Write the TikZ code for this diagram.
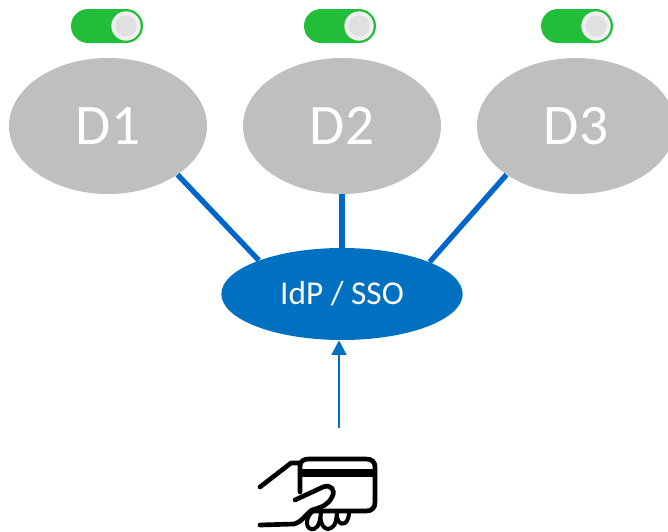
\documentclass[tikz,border=0pt]{standalone}
\usepackage{fontspec}
\setmainfont{Carlito}
\usetikzlibrary{arrows.meta,shapes.geometric}
\definecolor{greyfill}{RGB}{191,191,191}
\definecolor{idpblue}{RGB}{0,112,192}
\definecolor{linkblue}{RGB}{0,102,204}
\definecolor{togglegreen}{RGB}{34,190,58}
\definecolor{knobrim}{RGB}{240,240,240}
\definecolor{knobcore}{RGB}{224,224,224}
\tikzset{
  x=0.75pt,y=-0.75pt,
  domainnode/.style={ellipse,fill=greyfill,text=white,minimum width=148.5pt,minimum height=102pt,inner sep=0pt,font=\fontsize{43}{43}\selectfont},
  idpnode/.style={ellipse,fill=idpblue,text=white,minimum width=181pt,minimum height=69pt,inner sep=0pt,font=\fontsize{25}{25}\selectfont},
  link/.style={draw=linkblue,line width=4pt},
  feed/.style={draw=idpblue,line width=2pt,-{Triangle[length=11pt,width=11pt]}},
  icon/.style={draw=black,line width=3.5pt,line cap=round,line join=round},
}
\newcommand{\toggleswitch}[2]{%
  \fill[togglegreen] (#1-36,#2-17) ++(17,0) -- ++(38,0) arc[start angle=90,end angle=-90,radius=12.75pt] -- ++(-38,0) arc[start angle=270,end angle=90,radius=12.75pt] -- cycle;
  \fill[knobrim] (#1+19,#2) circle[radius=11pt];
  \fill[knobcore] (#1+19,#2) circle[radius=8pt];
}
\begin{document}
\begin{tikzpicture}
\useasboundingbox (0,0) rectangle (668,532);
\clip (0,0) rectangle (668,532);
\node[domainnode] (d1) at (108,126) {\raisebox{-2pt}{D1}};
\node[domainnode] (d2) at (342,126) {\raisebox{-2pt}{D2}};
\node[domainnode] (d3) at (576,126) {\raisebox{-2pt}{D3}};
\node[idpnode] (idp) at (342,294) {IdP / SSO};
\draw[link] (d1.-35.5) -- (idp.158);
\draw[link] (d2.south) -- (idp.north);
\draw[link] (d3.215) -- (idp.20.4);
\toggleswitch{107}{26}
\toggleswitch{340}{26}
\toggleswitch{577}{26}
\coordinate (cardtop) at (339,428);
\draw[feed] (cardtop) -- (cardtop |- idp.south);
% card in hand icon
\draw[icon] (300,492) -- (300,466) .. controls (300,461) and (304,459) .. (309,459) -- (366,459) .. controls (372,459) and (375,462) .. (375,467) -- (375,502) .. controls (375,508) and (372,511) .. (366,511) -- (312,511);
\fill (300,468.5) rectangle (375,477);
\draw[icon] (260,487) -- (291,463) -- (300,463);
\draw[icon] (295,500) -- (323,487) .. controls (331,484) and (336,490) .. (332,497) .. controls (328,505) and (322,507) .. (312,510) .. controls (306,514) and (302,522) .. (294,524) -- (260,525);
\draw[icon,line width=3pt] (312,512) .. controls (304,519) and (306,531) .. (314,529) .. controls (320,527) and (320,518) .. (321,513) .. controls (319,522) and (324,532) .. (331,528) .. controls (337,525) and (336,518) .. (337,513) .. controls (336,520) and (340,526) .. (345,523) .. controls (348,521) and (349,516) .. (349,512);
\end{tikzpicture}
\end{document}
